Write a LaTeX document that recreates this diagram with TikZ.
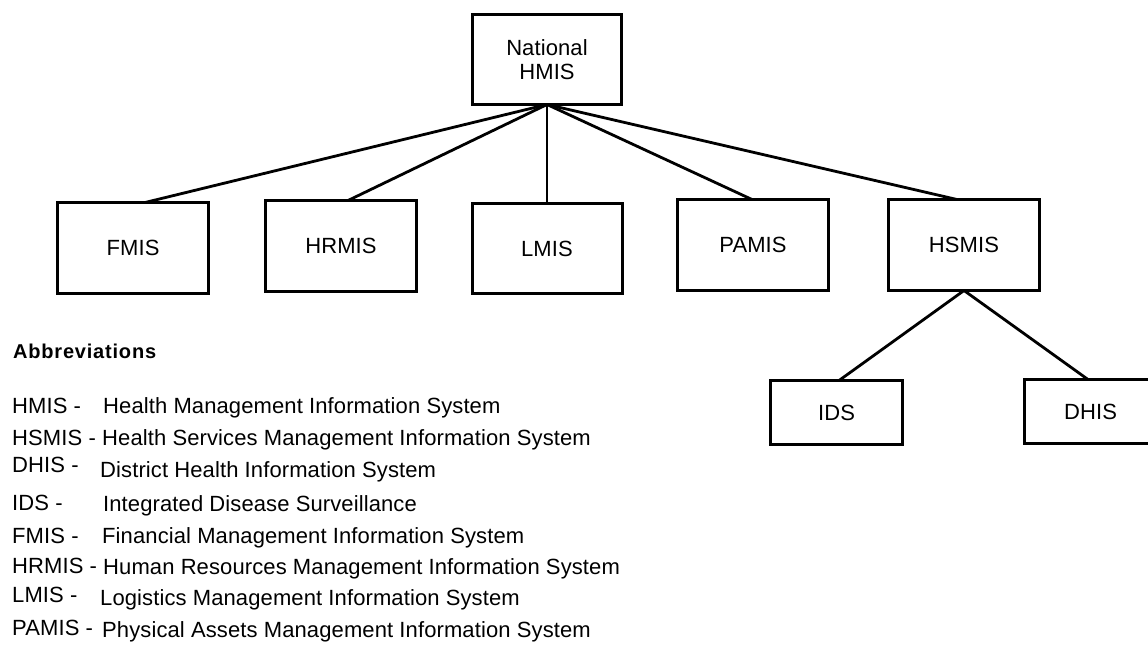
\documentclass[tikz,border=0pt]{standalone}
\usepackage{fontspec}
\setmainfont{Liberation Sans}[LetterSpace=0.5]
\begin{document}
\begin{tikzpicture}[x=1pt,y=-1pt,
  box/.style={draw,line width=3pt,rectangle,inner sep=0pt,outer sep=0pt,
    align=center,font=\fontsize{22}{24}\selectfont},
  conn/.style={line width=2.8pt},
  abbr/.style={anchor=base west,inner sep=0pt,font=\fontsize{22}{24}\selectfont},
  heading/.style={anchor=base west,inner sep=0pt,
    font=\fontsize{20}{22}\selectfont\bfseries\addfontfeatures{LetterSpace=4}}]
\useasboundingbox (0,0) rectangle (1148,646);

% hierarchy boxes
\node[box,minimum width=149,minimum height=90] (nat) at (547,59.5) {National\\HMIS};
\node[box,minimum width=151,minimum height=91] (fmis)  at (133,248)   {FMIS};
\node[box,minimum width=151,minimum height=91] (hrmis) at (341,246)   {HRMIS};
\node[box,minimum width=150,minimum height=90] (lmis)  at (547,248.5) {LMIS};
\node[box,minimum width=151,minimum height=91] (pamis) at (753,245)   {PAMIS};
\node[box,minimum width=151,minimum height=91] (hsmis) at (964,245)   {HSMIS};
\node[box,minimum width=132,minimum height=64] (ids)   at (836.5,412.5) {IDS};
\node[box,minimum width=132,minimum height=64] (dhis)  at (1090.5,411.5) {DHIS};

% connectors
\draw[conn] (nat.south) -- ([xshift=12]fmis.north);
\draw[conn] (nat.south) -- ([xshift=7]hrmis.north);
\draw[conn] (nat.south) -- (lmis.north);
\draw[conn] (nat.south) -- ([xshift=-1]pamis.north);
\draw[conn] (nat.south) -- ([xshift=-7]hsmis.north);
\draw[conn] (hsmis.south) -- ([xshift=2.5]ids.north);
\draw[conn] (hsmis.south) -- ([xshift=-2.5]dhis.north);

% abbreviations list
\node[heading] (head) at (13,358) {Abbreviations};

\node[abbr] (a1) at (12,413) {HMIS -};
\node[abbr] (d1) at (103,413) {Health Management Information System};
\node[abbr] (a2) at (12,445) {HSMIS -};
\node[abbr] (d2) at (102,445) {Health Services Management Information System};
\node[abbr] (a3) at (12,472) {DHIS -};
\node[abbr] (d3) at (100,477) {District Health Information System};
\node[abbr] (a4) at (12,510) {IDS -};
\node[abbr] (d4) at (103,511) {Integrated Disease Surveillance};
\node[abbr] (a5) at (12,543) {FMIS -};
\node[abbr] (d5) at (102,543) {Financial Management Information System};
\node[abbr] (a6) at (12,573) {HRMIS -};
\node[abbr] (d6) at (103,574) {Human Resources Management Information System};
\node[abbr] (a7) at (12,602) {LMIS -};
\node[abbr] (d7) at (100,605) {Logistics Management Information System};
\node[abbr] (a8) at (12,635) {PAMIS -};
\node[abbr] (d8) at (102,637) {Physical Assets Management Information System};
\end{tikzpicture}
\end{document}
